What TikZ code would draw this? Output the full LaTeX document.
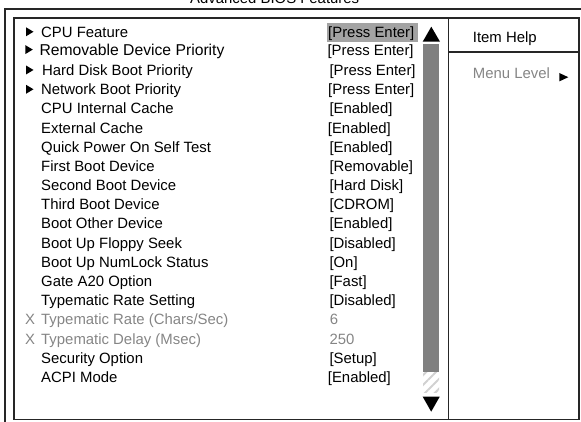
\documentclass[tikz,border=0pt]{standalone}
\usepackage{fontspec}
\setmainfont{Liberation Sans}
\usepackage{tikz}
\usetikzlibrary{patterns.meta}

\tikzset{
	item/.style={anchor=base west, inner sep=0pt, font=\fontsize{14.9}{17}\selectfont},
	dimmed/.style={text=black!48},
	frame/.style={line width=1.3pt, draw=black!85},
	marker/.pic={\fill (0,-4.5) -- (7.5,0) -- (0,4.5) -- cycle;}
}

\begin{document}
\begin{tikzpicture}[x=1pt, y=-1pt]
				\useasboundingbox (0,0) rectangle (581,422);

				\node[item] (title) at (190,3.5) {Advanced BIOS Features};

				\draw[frame] (5,430) -- (5,9) -- (590,9);
				\draw[frame] (14,18) rectangle (579,419.5);
				\draw[frame] (448.5,18) -- (448.5,419.5);
				\draw[frame] (448.5,52) -- (579,52);

				\fill[black!36] (327,23) rectangle (418,42);
				\fill (422.7,41.7) -- (431.3,26.7) -- (440,41.7) -- cycle;
				\fill[black!50] (423,44) rectangle (439,372);
				\fill[pattern={Lines[angle=45,distance=7pt,line width=2pt]}, pattern color=black!18] (423,372) rectangle (439,392);
				\fill (422.7,396.7) -- (439.7,396.7) -- (431.2,411.7) -- cycle;

				\pic at (26,31.8) {marker};
				\pic at (25.3,49.6) {marker};
				\pic at (26,70) {marker};
				\pic at (26,89.3) {marker};

				\node[item] (cpufeat) at (41,37.3) {CPU Feature};
				\node[item] (cpufeatv) at (328,37.3) {[Press Enter]};
				\node[item, font=\fontsize{15.7}{17}\selectfont] (removable) at (39.3,55.3) {Removable Device Priority};
				\node[item] (removablev) at (327.3,55.3) {[Press Enter]};
				\node[item] (harddisk) at (42,75.3) {Hard Disk Boot Priority};
				\node[item] (harddiskv) at (329.3,75.3) {[Press Enter]};
				\node[item] (network) at (41,94.3) {Network Boot Priority};
				\node[item] (networkv) at (328,94.3) {[Press Enter]};
				\node[item] (intcache) at (41,114) {CPU Internal Cache};
				\node[item] (intcachev) at (329.3,114) {[Enabled]};
				\node[item] (extcache) at (41,133.2) {External Cache};
				\node[item] (extcachev) at (327.7,133.2) {[Enabled]};
				\node[item] (quickpost) at (41,152.3) {Quick Power On Self Test};
				\node[item] (quickpostv) at (329.3,152.3) {[Enabled]};
				\node[item] (firstboot) at (41,171.5) {First Boot Device};
				\node[item] (firstbootv) at (329.3,171.5) {[Removable]};
				\node[item] (secondboot) at (41,190.7) {Second Boot Device};
				\node[item] (secondbootv) at (329.3,190.7) {[Hard Disk]};
				\node[item] (thirdboot) at (41,209.8) {Third Boot Device};
				\node[item] (thirdbootv) at (329.3,209.8) {[CDROM]};
				\node[item] (otherboot) at (41,229) {Boot Other Device};
				\node[item] (otherbootv) at (329.3,229) {[Enabled]};
				\node[item] (floppy) at (41,248.2) {Boot Up Floppy Seek};
				\node[item] (floppyv) at (329.3,248.2) {[Disabled]};
				\node[item] (numlock) at (41,267.3) {Boot Up NumLock Status};
				\node[item] (numlockv) at (329.3,267.3) {[On]};
				\node[item] (gatea) at (41,286.5) {Gate A20 Option};
				\node[item] (gateav) at (329.3,286.5) {[Fast]};
				\node[item] (typeset) at (41,305.7) {Typematic Rate Setting};
				\node[item] (typesetv) at (329.3,305.7) {[Disabled]};
				\node[item, dimmed] (typerateX) at (25,324.9) {X};
				\node[item, dimmed] (typerate) at (41,324.9) {Typematic Rate (Chars/Sec)};
				\node[item, dimmed] (typeratev) at (329.6,324.9) {6};
				\node[item, dimmed] (typedelayX) at (25,344) {X};
				\node[item, dimmed] (typedelay) at (41,344) {Typematic Delay (Msec)};
				\node[item, dimmed] (typedelayv) at (329.3,344) {250};
				\node[item] (security) at (41,363.2) {Security Option};
				\node[item] (securityv) at (329.3,363.2) {[Setup]};
				\node[item] (acpi) at (41,382.4) {ACPI Mode};
				\node[item] (acpiv) at (327.7,382.4) {[Enabled]};

				\node[item] (help) at (472.7,43) {Item Help};
				\node[item, dimmed] (level) at (472.7,78.5) {Menu Level};
				\fill (559.3,73) -- (568.3,77.2) -- (559.3,81.4) -- cycle;

			\end{tikzpicture}
\end{document}
